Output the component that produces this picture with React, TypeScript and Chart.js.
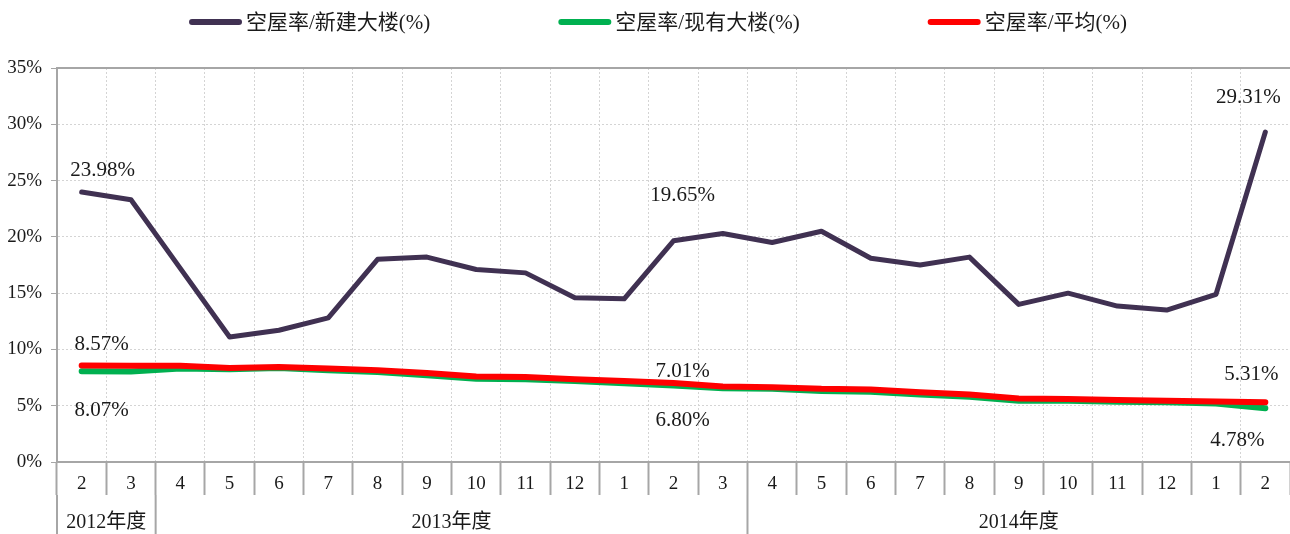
import React, { useEffect, useRef } from "react";
import { Chart, registerables } from "chart.js";

Chart.register(...registerables);

// ---------- data ----------
const months = ["2", "3", "4", "5", "6", "7", "8", "9", "10", "11", "12", "1", "2", "3", "4", "5", "6", "7", "8", "9", "10", "11", "12", "1", "2"];
const yearGroups = ["2012年度", "2013年度", "2014年度"];
const yearGroupSizes = [2, 12, 11];
const seriesNames = ["空屋率/新建大楼(%)", "空屋率/现有大楼(%)", "空屋率/平均(%)"];
const newBuildings = [23.98, 23.3, 17.2, 11.1, 11.7, 12.8, 18.0, 18.2, 17.1, 16.8, 14.6, 14.5, 19.65, 20.3, 19.5, 20.5, 18.1, 17.5, 18.2, 14.0, 15.0, 13.85, 13.5, 14.9, 29.31];
const existingBuildings = [8.07, 8.05, 8.3, 8.25, 8.35, 8.15, 8.0, 7.7, 7.4, 7.35, 7.2, 7.0, 6.8, 6.55, 6.5, 6.3, 6.25, 6.0, 5.8, 5.45, 5.45, 5.35, 5.3, 5.2, 4.78];
const averageRate = [8.57, 8.55, 8.55, 8.35, 8.45, 8.3, 8.15, 7.9, 7.6, 7.55, 7.35, 7.2, 7.01, 6.7, 6.65, 6.5, 6.45, 6.2, 6.0, 5.65, 5.6, 5.5, 5.45, 5.38, 5.31];
const yMin = 0;
const yMax = 35;
const yStep = 5;

// which points carry a value label (dataset index, point index)
const labelledPoints = [
  [0, 0], [0, 12], [0, 24],
  [2, 0], [2, 12], [2, 24],
  [1, 0], [1, 12], [1, 24],
];

// ---------- styles ----------
const COLORS = ["#403152", "#00b050", "#ff0000"];
const WIDTHS = [5, 6, 6];
const FONT = '"Liberation Serif", "Noto Sans CJK SC", serif';
const AXIS_GRAY = "#a6a6a6";
const GRID_GRAY = "#d4d4d4";
const TEXT = "#1a1a1a";
// label offsets relative to the point (style, keyed in the same order as labelledPoints)
const labelOffsets = [
  [21, -22], [9, -45], [-17, -35],
  [20, -21], [9, -12], [-14, -28],
  [20, 39], [9, 35], [-28, 32],
];

const overlayPlugin = {
  id: "overlay",
  afterDraw(chart: any) {
    const { ctx, chartArea } = chart;
    const xs = chart.scales.x;
    ctx.save();

    // top border line
    ctx.strokeStyle = AXIS_GRAY;
    ctx.lineWidth = 2;
    ctx.beginPath();
    ctx.moveTo(chartArea.left, chartArea.top);
    ctx.lineTo(chartArea.right, chartArea.top);
    ctx.stroke();

    // year group row
    const cell = xs.getPixelForValue(1) - xs.getPixelForValue(0);
    const rowTop = chartArea.bottom + 33;
    const rowBottom = chart.height;
    let start = 0;
    ctx.font = `20px ${FONT}`;
    ctx.fillStyle = TEXT;
    ctx.textAlign = "center";
    ctx.textBaseline = "middle";
    yearGroups.forEach((name, gi) => {
      const end = start + yearGroupSizes[gi];
      const x0 = xs.getPixelForValue(start) - cell / 2;
      const x1 = xs.getPixelForValue(end - 1) + cell / 2;
      ctx.strokeStyle = AXIS_GRAY;
      ctx.lineWidth = 2;
      ctx.beginPath();
      ctx.moveTo(x0, rowTop);
      ctx.lineTo(x0, rowBottom);
      ctx.stroke();
      ctx.fillText(name, (x0 + x1) / 2, (rowTop + rowBottom) / 2 + 8);
      start = end;
    });

    // value labels
    ctx.font = `21px ${FONT}`;
    ctx.fillStyle = TEXT;
    labelledPoints.forEach(([ds, i], k) => {
      const pt = chart.getDatasetMeta(ds).data[i];
      const v = chart.data.datasets[ds].data[i] as number;
      const [dx, dy] = labelOffsets[k];
      ctx.fillText(v.toFixed(2) + "%", pt.x + dx, pt.y + dy);
    });

    // legend
    ctx.font = `21px ${FONT}`;
    const sw = 53;
    const gapText = 4;
    const gapItem = 128;
    const widths = chart.data.datasets.map((d: any) => ctx.measureText(d.label).width);
    const total = widths.reduce((a: number, w: number) => a + sw + gapText + w, 0) + gapItem * (widths.length - 1);
    let x = 658 - total / 2;
    const ly = 22;
    ctx.textAlign = "left";
    chart.data.datasets.forEach((d: any, di: number) => {
      ctx.strokeStyle = d.borderColor;
      ctx.lineWidth = 6;
      ctx.lineCap = "round";
      ctx.beginPath();
      ctx.moveTo(x + 3, ly);
      ctx.lineTo(x + sw - 3, ly);
      ctx.stroke();
      ctx.fillStyle = TEXT;
      ctx.fillText(d.label, x + sw + gapText, ly + 1);
      x += sw + gapText + widths[di] + gapItem;
    });

    ctx.restore();
  },
};

export default function App() {
  const ref = useRef<HTMLCanvasElement | null>(null);

  useEffect(() => {
    if (!ref.current) return;
    const series = [newBuildings, existingBuildings, averageRate];
    const orders = [2, 1, 0];
    const chart = new Chart(ref.current, {
      type: "line",
      data: {
        labels: months,
        datasets: series.map((data, i) => ({
          label: seriesNames[i],
          data,
          borderColor: COLORS[i],
          backgroundColor: COLORS[i],
          borderWidth: WIDTHS[i],
          pointRadius: 0,
          pointHoverRadius: 0,
          tension: 0,
          borderJoinStyle: "round" as const,
          borderCapStyle: "round" as const,
          order: orders[i],
        })),
      },
      options: {
        animation: false,
        responsive: true,
        maintainAspectRatio: false,
        layout: { padding: { top: 68, left: 0, right: 0, bottom: 0 } },
        plugins: {
          legend: { display: false },
          tooltip: { enabled: false },
        },
        scales: {
          x: {
            type: "category",
            offset: true,
            grid: {
              offset: true,
              color: GRID_GRAY,
              lineWidth: 1,
              tickLength: 33,
              tickWidth: 2,
              tickColor: AXIS_GRAY,
              tickBorderDash: [],
            },
            border: { color: AXIS_GRAY, width: 2, dash: [2, 2] },
            ticks: {
              padding: -22,
              autoSkip: false,
              maxRotation: 0,
              color: TEXT,
              font: { family: FONT, size: 19 },
            },
            afterFit: (s: any) => {
              s.height = 72;
            },
          },
          y: {
            min: yMin,
            max: yMax,
            grid: {
              color: GRID_GRAY,
              lineWidth: 1,
              tickLength: 6,
              tickWidth: 1,
              tickColor: AXIS_GRAY,
              tickBorderDash: [],
            },
            border: { color: AXIS_GRAY, width: 2, dash: [2, 2] },
            ticks: {
              stepSize: yStep,
              padding: 9,
              color: TEXT,
              font: { family: FONT, size: 19 },
              callback: (v: any) => `${v}%`,
            },
            afterFit: (s: any) => {
              s.width = 57;
            },
          },
        },
      },
      plugins: [overlayPlugin],
    });
    return () => chart.destroy();
  }, []);

  return (
    <div style={{ position: "absolute", left: 0, top: 0, width: 1290, height: 534 }}>
      <canvas ref={ref} />
    </div>
  );
}
